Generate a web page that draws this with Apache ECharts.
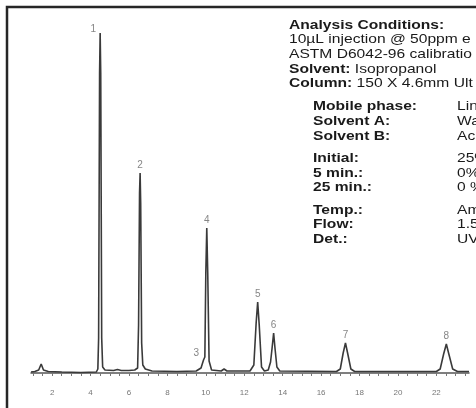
<!DOCTYPE html>
<html>
<head>
<meta charset="utf-8">
<title>Chromatogram</title>
<script src="https://cdn.jsdelivr.net/npm/echarts@6/dist/echarts.min.js"></script>
<style>
  html, body { margin: 0; padding: 0; background: #fff; }
  #chart { width: 476px; height: 408px; }
</style>
</head>
<body>
<div id="chart"></div>
<script>
  /******************/
  //region    //data

  // detector trace, retention time (min) and signal
  let traceTimes = [
    0.9, 1.1, 1.3, 1.43, 1.55, 1.8, 2.5, 3.5,
    4.3, 4.38, 4.42, 4.47, 4.5, 4.53, 4.58, 4.63, 4.75,
    5.2, 5.4, 5.6, 6.0, 6.3,
    6.45, 6.5, 6.55, 6.58, 6.61, 6.66, 6.72, 6.78, 6.85,
    7.2, 8.5, 9.5, 9.75, 9.88, 9.95, 10.0, 10.05, 10.1, 10.17, 10.3,
    10.8, 10.95, 11.1, 12.3,
    12.5, 12.62, 12.7, 12.78, 12.9, 13.05,
    13.25, 13.37, 13.45, 13.53, 13.6, 13.7, 13.85,
    16.8, 17.0, 17.15, 17.27, 17.38, 17.55, 17.75,
    22.0, 22.2, 22.38, 22.52, 22.65, 22.85, 23.1, 23.7
  ];
  let traceSignal = [
    1, 1.5, 3, 9, 3, 1.5, 1, 0.5,
    1, 4, 35, 300, 340, 300, 35, 6, 3,
    2.5, 3.5, 2.5, 2.5, 3,
    5, 48, 180, 200, 170, 30, 8, 10, 4,
    2, 1.5, 2, 5, 13, 16, 100, 145, 100, 12, 3,
    2, 4, 2, 2,
    8, 50, 71, 48, 6, 2,
    3, 11, 25, 40, 25, 6, 2,
    1.5, 4, 20, 30, 20, 4, 1.5,
    1.5, 4, 19, 29, 19, 4, 1.5, 1.5
  ];

  // numbered peaks
  let peakNames = ['1', '2', '3', '4', '5', '6', '7', '8'];
  let peakTimes = [4.5, 6.58, 9.92, 10.05, 12.7, 13.53, 17.27, 22.52];
  let peakHeights = [340, 200, 16, 145, 71, 40, 30, 29];

  // axis
  let tickLabels = [2, 4, 6, 8, 10, 12, 14, 16, 18, 20, 22];
  let minorTicks = [];
  for (let t = 1; t <= 23.5; t += 0.5) minorTicks.push(t);

  // conditions text
  let condHead = 'Analysis Conditions:';
  let condLines = [
    ['', '10µL injection @ 50ppm e'],
    ['', 'ASTM D6042-96 calibratio'],
    ['Solvent:', ' Isopropanol'],
    ['Column:', ' 150 X 4.6mm Ult']
  ];
  let condRows = [
    ['Mobile phase:', 'Lin'],
    ['Solvent A:', 'Wa'],
    ['Solvent B:', 'Ac'],
    null,
    ['Initial:', '25%'],
    ['5 min.:', '0%'],
    ['25 min.:', '0 %'],
    null,
    ['Temp.:', 'Am'],
    ['Flow:', '1.5'],
    ['Det.:', 'UV']
  ];

  //endregion

  /******************/
  //region    //chart

  let chart = echarts.init(document.getElementById('chart'));

  let font = 'Liberation Sans, Arial, sans-serif';
  let lineH = 14.7;
  let textScale = 1.2;

  function txt(x, y, rich) {
    return {
      type: 'text', x: x, y: y, scaleX: textScale,
      style: {
        x: 0, y: 0, text: rich, fill: '#1a1a1a',
        font: '13px ' + font, verticalAlign: 'middle',
        rich: {
          b: { fontWeight: 'bold', fontSize: 13, fontFamily: font, fill: '#1a1a1a' },
          r: { fontSize: 13, fontFamily: font, fill: '#1a1a1a' }
        }
      }
    };
  }

  let graphics = [
    {
      type: 'rect', shape: { x: 7, y: 7, width: 520, height: 460 },
      style: { fill: null, stroke: '#262626', lineWidth: 2.5 }
    },
    txt(289, 25, '{b|' + condHead + '}')
  ];
  condLines.forEach((l, i) => {
    let s = (l[0] ? '{b|' + l[0] + '}' : '') + '{r|' + l[1] + '}';
    graphics.push(txt(289, 25 + (i + 1) * lineH, s));
  });
  let y = 25 + 4 * lineH + 23;
  condRows.forEach((r) => {
    if (!r) { y += 7.5; return; }
    graphics.push(txt(313, y, '{b|' + r[0] + '}'));
    graphics.push(txt(457, y, '{r|' + r[1] + '}'));
    y += lineH;
  });

  let option = {
    animation: false,
    grid: { left: 31, right: 7, top: 33, bottom: 30 },
    xAxis: {
      type: 'value',
      min: 0.9,
      max: 23.7,
      axisLine: { lineStyle: { color: '#555', width: 1.5 } },
      axisTick: {
        customValues: minorTicks,
        length: 3,
        lineStyle: { color: '#777', width: 1 }
      },
      axisLabel: {
        customValues: tickLabels,
        fontSize: 8,
        color: '#777',
        margin: 11,
        fontFamily: 'Liberation Sans Narrow, Liberation Sans, sans-serif'
      },
      splitLine: { show: false }
    },
    yAxis: {
      type: 'value',
      min: -5,
      max: 340,
      show: false,
      splitLine: { show: false }
    },
    series: [
      {
        type: 'line',
        data: traceTimes.map((t, i) => [t, traceSignal[i]]),
        showSymbol: false,
        lineStyle: { color: '#3a3a3a', width: 1.6 },
        z: 2
      },
      {
        type: 'scatter',
        symbolSize: 0,
        data: peakTimes.map((t, i) => {
          let item = { value: [t, peakHeights[i]], name: peakNames[i] };
          if (i === 0) item.label = { offset: [-7, 4] };
          if (i === 2) item.label = { offset: [-8, 4] };
          return item;
        }),
        label: {
          show: true,
          position: 'top',
          distance: 3,
          formatter: (p) => p.name,
          fontSize: 10,
          color: '#666',
          fontFamily: 'Liberation Sans Narrow, Liberation Sans, sans-serif'
        },
        z: 3
      }
    ],
    graphic: graphics
  };

  chart.setOption(option);

  //endregion
</script>
</body>
</html>
